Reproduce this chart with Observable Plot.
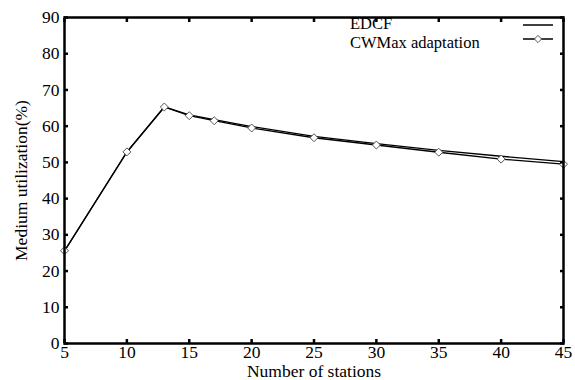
<!DOCTYPE html>
<html><head><meta charset="utf-8">
<script src="https://cdn.jsdelivr.net/npm/d3@7"></script>
<script src="https://cdn.jsdelivr.net/npm/@observablehq/plot@0.6"></script>
<style>
body{margin:0;background:#fff;}
#wrap{position:relative;width:575px;height:380px;}
#wrap svg, #wrap svg text{font-family:"Liberation Serif","Times New Roman",serif !important;}
#legend{position:absolute;left:0;top:0;}
</style>
</head><body>
<div id="wrap"></div>
<script>
const stations = [5, 10, 13, 15, 17, 20, 25, 30, 35, 40, 45];
const edcf = [25.5, 52.8, 65.3, 63.1, 61.8, 59.9, 57.2, 55.2, 53.3, 51.7, 50.2];
const cwmax = [25.6, 52.9, 65.3, 62.9, 61.5, 59.5, 56.8, 54.8, 52.8, 50.9, 49.5];
const xTicks = [5, 10, 15, 20, 25, 30, 35, 40, 45];
const yTicks = [0, 10, 20, 30, 40, 50, 60, 70, 80, 90];
const seriesNames = ["EDCF", "CWMax adaptation"];

const dEdcf = stations.map((s, i) => ({x: s, y: edcf[i]}));
const dCw = stations.map((s, i) => ({x: s, y: cwmax[i]}));

const chart = Plot.plot({
  width: 575, height: 380,
  marginLeft: 64, marginRight: 12, marginTop: 17, marginBottom: 37,
  style: {fontFamily: "Liberation Serif, serif", fontSize: "17.5px", color: "#000", background: "#fff"},
  x: {domain: [5, 45]},
  y: {domain: [0, 90]},
  marks: [
    Plot.line(dEdcf, {x: "x", y: "y", stroke: "#000", strokeWidth: 1.3}),
    Plot.line(dCw, {x: "x", y: "y", stroke: "#000", strokeWidth: 1.3}),
    Plot.dot(dCw, {x: "x", y: "y", symbol: "diamond2", r: 3.6, stroke: "#555", strokeWidth: 1, fill: "#fff"}),
    Plot.axisX({ticks: xTicks, tickSize: -4, tickPadding: 6, strokeWidth: 2.5, fontSize: 17.5, label: "Number of stations", labelAnchor: "center", labelArrow: "none", labelOffset: 33}),
    Plot.axisX({anchor: "top", ticks: xTicks, tickSize: -4, strokeWidth: 2.5, tickFormat: () => "", label: null}),
    Plot.axisY({ticks: yTicks, tickSize: -4, tickPadding: 9, strokeWidth: 2.5, fontSize: 17.5, label: "Medium utilization(%)", labelAnchor: "center", labelArrow: "none", labelOffset: 50}),
    Plot.axisY({anchor: "right", ticks: yTicks, tickSize: -4, strokeWidth: 2.5, tickFormat: () => "", label: null}),
    Plot.frame({stroke: "#000", strokeWidth: 2.5})
  ]
});
const wrap = document.getElementById("wrap");
wrap.appendChild(chart);

const ns = "http://www.w3.org/2000/svg";
const lg = document.createElementNS(ns, "svg");
lg.setAttribute("id", "legend");
lg.setAttribute("width", 575); lg.setAttribute("height", 60);
wrap.appendChild(lg);
function legendItem(name, baseline, lineY, withMarker) {
  const t = document.createElementNS(ns, "text");
  t.setAttribute("x", 350); t.setAttribute("y", baseline);
  t.setAttribute("font-size", 16.5); t.setAttribute("fill", "#000");
  t.textContent = name;
  lg.appendChild(t);
  const l = document.createElementNS(ns, "line");
  l.setAttribute("x1", 523); l.setAttribute("x2", 553); l.setAttribute("y1", lineY); l.setAttribute("y2", lineY);
  l.setAttribute("stroke", "#000"); l.setAttribute("stroke-width", 1.5);
  lg.appendChild(l);
  if (withMarker) {
    const p = document.createElementNS(ns, "path");
    p.setAttribute("d", `M538,${lineY - 3.6}L541.6,${lineY}L538,${lineY + 3.6}L534.4,${lineY}Z`);
    p.setAttribute("fill", "#fff"); p.setAttribute("stroke", "#555");
    lg.appendChild(p);
  }
}
legendItem(seriesNames[0], 29, 25, false);
legendItem(seriesNames[1], 47.5, 39, true);
</script>
</body></html>
